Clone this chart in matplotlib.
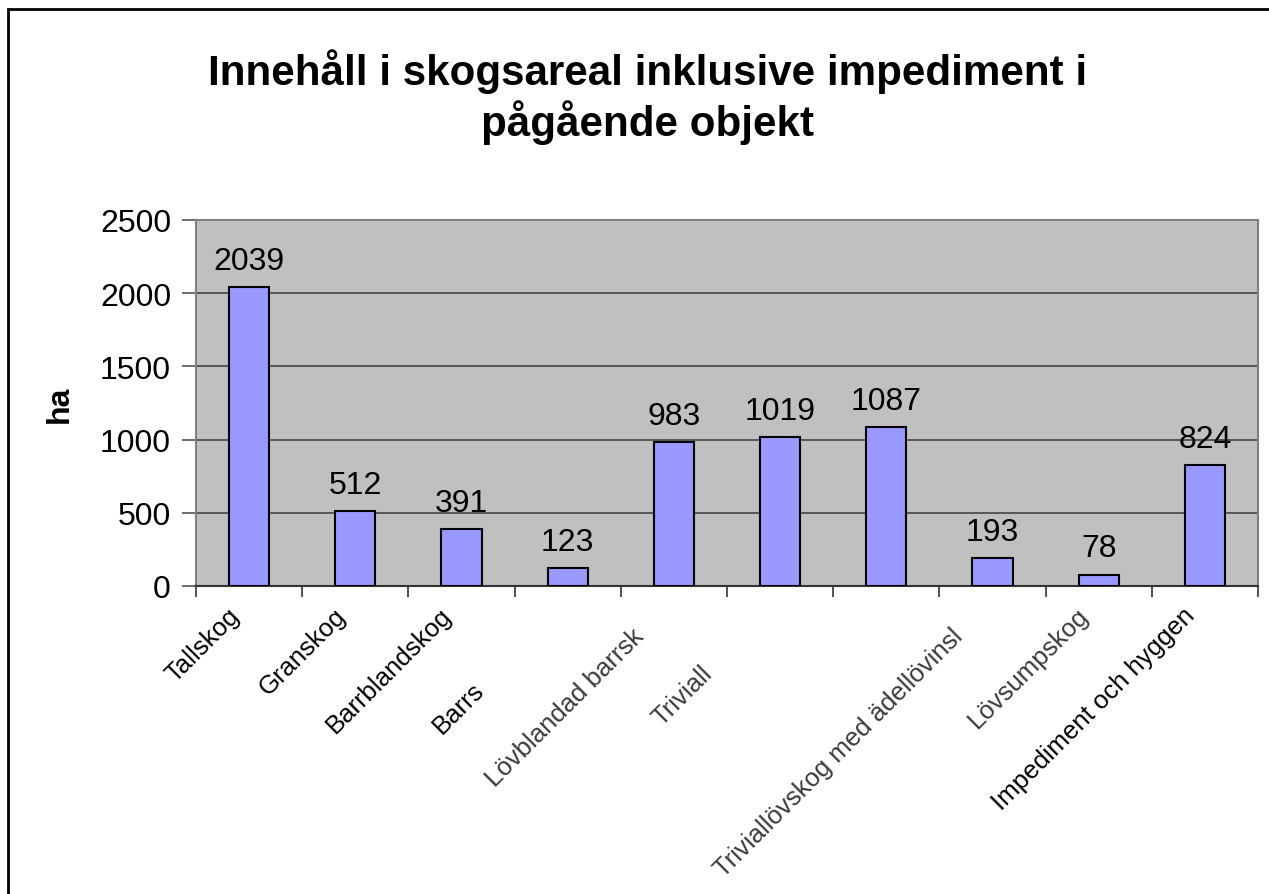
import matplotlib.pyplot as plt
from matplotlib.patches import Rectangle
from matplotlib.font_manager import FontProperties

plt.rcParams['font.family'] = ['Liberation Sans', 'DejaVu Sans']

# data
kategorier = ["Tallskog", "Granskog", "Barrblandskog", "Barrsumpskog",
              "Lövblandad barrskog", "Triviallövskog", "",
              "Triviallövskog med ädellövinslag", "Lövsumpskog",
              "Impediment och hyggen"]
# what is actually readable in the picture (labels are clipped there)
synliga = ["Tallskog", "Granskog", "Barrblandskog", "Barrs",
           "Lövblandad barrsk", "Triviall", "",
           "Triviallövskog med ädellövinsl", "Lövsumpskog",
           "Impediment och hyggen"]
areal = [2039, 512, 391, 123, 983, 1019, 1087, 193, 78, 824]

fig = plt.figure(figsize=(12.69, 8.95), dpi=100)
ax = fig.add_axes([196/1269, 1 - 587/895, (1258-196)/1269, (587-221)/895])

x = list(range(len(areal)))
ax.bar(x, areal, width=0.38, color="#9999FF", edgecolor="black",
       linewidth=1.5, zorder=3)
for xi, v in zip(x, areal):
    ax.annotate(str(v), (xi, v), xytext=(0, 8), textcoords="offset points",
                ha="center", va="bottom", fontsize=23)

ax.set_facecolor("#C0C0C0")
ax.set_xlim(-0.5, len(areal) - 0.5)
ax.set_ylim(0, 2500)
ax.set_yticks(range(0, 2501, 500))
ax.tick_params(axis="y", labelsize=23, length=10, width=1.2, color="#555555", pad=8)
ax.grid(True, axis="y", color="#444444", linewidth=1.2, zorder=1)

ax.set_xticks([i - 0.5 for i in x] + [len(x) - 0.5], minor=True)
ax.set_xticks(x)
ax.set_xticklabels([])
ax.tick_params(axis="x", which="major", length=0)
ax.tick_params(axis="x", which="minor", length=8, width=1.2, color="#333333")

# x labels: clipped ones keep the position the full text would have
fs = 18.5
renderer = fig.canvas.get_renderer()
fp = FontProperties(family=['Liberation Sans', 'DejaVu Sans'], size=fs)
for xi, full, vis in zip(x, kategorier, synliga):
    if not vis:
        continue
    rest = full[len(vis):]
    w = 0
    if rest:
        w = renderer.get_text_width_height_descent(rest, fp, ismath=False)[0]
    col = "black" if vis in ("Tallskog", "Granskog", "Barrblandskog", "Barrs",
                             "Impediment och hyggen") else "#3a3a3a"
    ax.annotate(vis, (xi, 0), xycoords="data",
                xytext=(-22 - w * 0.7071, -17 - w * 0.7071), textcoords="offset pixels",
                ha="right", va="top", rotation=45, rotation_mode="anchor",
                fontsize=fs, color=col, annotation_clip=False)

for s in ["top", "right", "left"]:
    ax.spines[s].set_color("#808080")
    ax.spines[s].set_linewidth(1.5)
ax.spines["bottom"].set_color("#333333")
ax.spines["bottom"].set_linewidth(1.5)

ax.set_ylabel("ha", fontsize=23, fontweight="bold", labelpad=18)

fig.text(0.51, 1 - 97/895, "Innehåll i skogsareal inklusive impediment i\npågående objekt",
         ha="center", va="center", fontsize=30.3, fontweight="bold", linespacing=1.15)

fig.patches.append(Rectangle((8/1269, -0.05), 1.2, 1 - 10/895 + 0.05,
                             transform=fig.transFigure, fill=False,
                             edgecolor="black", linewidth=2))

fig.savefig("out.png", dpi=100)
